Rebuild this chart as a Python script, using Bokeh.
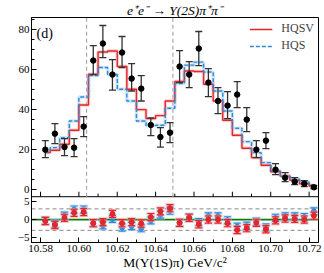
import math
from bokeh.plotting import figure
from bokeh.models import Range1d, FixedTicker, Label, Legend, LegendItem, PrintfTickFormatter
from bokeh.embed import file_html
from bokeh.resources import INLINE

# ---------------- data ----------------
mass = [10.5825, 10.5875, 10.5925, 10.5975, 10.6025, 10.6075, 10.6125, 10.6175,
        10.6225, 10.6275, 10.6325, 10.6375, 10.6425, 10.6475, 10.6525, 10.6575,
        10.6625, 10.6675, 10.6725, 10.6775, 10.6825, 10.6875, 10.6925, 10.6975,
        10.7025, 10.7075, 10.7125, 10.7175, 10.7225]
events = [20, 28, 21.3, 21, 31.5, 64.5, 73, 57.5, 68.5, 55.5, 50.5, 32.3, 26.3, 28.5,
          61.5, 57.5, 70.5, 53.5, 44.3, 42, 47.5, 35, 20, 24.5, 10, 6, 4, 3, 1.2]
events_hi = [24.5, 33, 25.5, 25.5, 36.5, 72, 82, 65, 76.5, 63, 57, 35.8, 31, 33.5,
             69.5, 64, 79, 60.5, 51, 49, 54, 41, 24.5, 28.5, 13, 8.5, 6, 4.5, 2.2]
events_lo = [16, 23, 17, 16.5, 26.5, 57.5, 66, 49.7, 61, 49.3, 44.3, 27, 21.3, 23.5,
             53.5, 51, 62, 46.5, 38, 35.5, 41, 29, 16, 20.5, 7.5, 4, 2.5, 1.5, 0.5]
hqsv = [18.5, 19.7, 22.7, 29.7, 42.3, 57.7, 68.8, 69.3, 61.5, 50.2, 40, 35.5, 37, 44.3,
        54, 59.3, 59, 52.7, 44.3, 34.7, 27.2, 20.7, 16, 12.2, 9, 6.8, 4.7, 3, 1.8]
hqs = [18.8, 21, 26, 34.3, 46.3, 57, 61, 57.5, 50.2, 44.3, 34.3, 32, 32.2, 40.7,
       53, 62.2, 63.7, 58.8, 49.3, 39.3, 30.7, 24, 18.5, 13.5, 9.3, 6.8, 5.2, 3.8, 2.2]
res_hqsv = [-0.4, -1.5, 0.5, 1.9, 2.1, -1.0, -0.7, 1.6, -1.0, -0.7, -1.1, 0.7, 2.3, 3.2,
            -0.9, 0.5, -1.3, 0.0, 0.0, -1.0, -2.9, -2.4, -0.9, -2.7, -0.2, 0.3, 0.2, 0.0, 1.1]
res_hqs = [-0.3, -1.2, 1.1, 2.8, 2.8, -1.0, -1.6, 0.2, -2.2, -1.8, -2.4, -0.2, 1.4, 2.5,
           -0.9, 0.6, -0.7, 0.9, 0.9, -0.2, -2.0, -1.7, -0.6, -2.2, 0.5, 0.9, 0.9, 0.7, 2.3]
res_err = 1.0
thresholds = [10.604, 10.649]
x_ticks = [10.58, 10.60, 10.62, 10.64, 10.66, 10.68, 10.70, 10.72]
x_minor = [10.59, 10.61, 10.63, 10.65, 10.67, 10.69, 10.71]
y_ticks = [0, 20, 40, 60, 80]
y_minor = [5, 10, 15, 25, 30, 35, 45, 50, 55, 65, 70, 75, 85]
res_ticks = [-5, 0, 5]
res_lines = [-3, 3]

# ---------------- geometry ----------------
W, H = 323, 272
BL, BR, BT, BB = 31, 5, 16, 30
FW = W - BL - BR
FH = H - BT - BB
RES_PX = 46
MAIN_PX = FH - RES_PX
XLO, XHI = 10.5753, 10.7249
MAIN_LO, MAIN_HI = -3.5, 86.0
RES_LO, RES_HI = -6.4, 6.4
ppu_main = MAIN_PX / (MAIN_HI - MAIN_LO)
ppu_res = RES_PX / (RES_HI - RES_LO)
ppx = FW / (XHI - XLO)
y_start = MAIN_LO - RES_PX / ppu_main
res_end = RES_HI + MAIN_PX / ppu_res

def res_to_main(r):
    return round(y_start + (r - RES_LO) * ppu_res / ppu_main, 6)

SERIF = "Liberation Serif"
RED = "#e3262b"
BLUE = "#2f88d8"
RED_L = "#f4a3a3"
BLUE_L = "#a3cdf0"

p = figure(width=W, height=H, output_backend="svg", toolbar_location=None,
           x_range=Range1d(XLO, XHI), y_range=Range1d(y_start, MAIN_HI),
           min_border_left=BL, min_border_right=BR, min_border_top=BT,
           min_border_bottom=BB)
p.extra_y_ranges = {"res": Range1d(RES_LO, res_end)}
p.grid.visible = False
p.outline_line_color = "black"
p.outline_line_width = 1
p.background_fill_color = "white"
p.border_fill_color = "white"

# title
p.title.text = "e\u207ae\u207b \u2192 \u03a5(2S)\u03c0\u207a\u03c0\u207b"
p.title.align = "center"
p.title.text_font = SERIF
p.title.text_font_style = "italic"
p.title.text_font_size = "13.5px"
p.title.text_color = "black"
p.title.standoff = 0

# axes
res_pos = [res_to_main(r) for r in res_ticks]
p.yaxis.ticker = FixedTicker(ticks=y_ticks + res_pos, minor_ticks=y_minor)
p.yaxis.major_label_overrides = {res_pos[0]: "\u22125", res_pos[1]: "0", res_pos[2]: "5"}
p.xaxis.ticker = FixedTicker(ticks=x_ticks, minor_ticks=x_minor)
p.xaxis.formatter = PrintfTickFormatter(format="%.2f")
p.xaxis.axis_label = "M(\u03a5(1S)\u03c0) GeV/c\u00b2"
for ax in (p.xaxis, p.yaxis):
    ax.major_tick_in = 5
    ax.major_tick_out = 0
    ax.minor_tick_in = 3
    ax.minor_tick_out = 0
    ax.major_label_text_font = SERIF
    ax.major_label_text_font_size = "11px"
    ax.major_label_text_color = "black"
    ax.axis_line_color = "black"
    ax.major_tick_line_color = "black"
    ax.minor_tick_line_color = "black"
    ax.major_label_standoff = 2
    ax.axis_label_standoff = 0
    ax.axis_label_text_font = SERIF
    ax.axis_label_text_font_style = "normal"
    ax.axis_label_text_font_size = "13.5px"
    ax.axis_label_text_color = "black"

# divider between panels
p.segment(x0=[XLO], x1=[XHI], y0=[MAIN_LO], y1=[MAIN_LO], line_color="black", line_width=1)
p.segment(x0=x_ticks, x1=x_ticks, y0=[MAIN_LO] * len(x_ticks),
          y1=[MAIN_LO + 5 / ppu_main] * len(x_ticks), line_color="black", line_width=1)
p.segment(x0=x_minor, x1=x_minor, y0=[MAIN_LO] * len(x_minor),
          y1=[MAIN_LO + 3 / ppu_main] * len(x_minor), line_color="black", line_width=1)

# threshold lines (main panel only)
p.segment(x0=thresholds, x1=thresholds, y0=[MAIN_LO] * 2, y1=[MAIN_HI] * 2,
          line_color="#a8a8a8", line_width=1.2, line_dash="4 3")

# model curves
p.step(mass, hqs, mode="center", line_color=BLUE_L, line_width=3.5, line_alpha=0.5)
p.step(mass, hqsv, mode="center", line_color=RED_L, line_width=3.5, line_alpha=0.5)
r_hqsv = p.step(mass, hqsv, mode="center", line_color=RED, line_width=1.4)
r_hqs = p.step(mass, hqs, mode="center", line_color=BLUE, line_width=1.4, line_dash="4 2")

# data
p.segment(x0=mass, x1=mass, y0=events_lo, y1=events_hi, line_color="#333333", line_width=1.3)
p.scatter(mass, events_hi, marker="dash", size=7, line_color="#333333", line_width=1.3)
p.scatter(mass, events_lo, marker="dash", size=7, line_color="#333333", line_width=1.3)
p.scatter(mass, events, marker="circle", size=5.5, fill_color="black", line_color="black")

# residual panel
p.segment(x0=[XLO], x1=[XHI], y0=[0], y1=[0], line_color="#0a7a0a", line_width=1.6,
          y_range_name="res")
p.segment(x0=[XLO, XLO], x1=[XHI, XHI], y0=res_lines, y1=res_lines, line_color="#888888",
          line_width=1, line_dash="4 3", y_range_name="res")

for vals, col, light in ((res_hqs, BLUE, BLUE_L), (res_hqsv, RED, RED_L)):
    lo = [v - res_err for v in vals]
    hi = [v + res_err for v in vals]
    p.segment(x0=mass, x1=mass, y0=lo, y1=hi, line_color=light, line_width=4,
              line_alpha=0.55, y_range_name="res")
    p.scatter(mass, hi, marker="dash", size=9, line_color=light, line_width=3,
              line_alpha=0.55, y_range_name="res")
    p.scatter(mass, lo, marker="dash", size=9, line_color=light, line_width=3,
              line_alpha=0.55, y_range_name="res")
    p.segment(x0=mass, x1=mass, y0=lo, y1=hi, line_color=col, line_width=1.2,
              y_range_name="res")
    p.scatter(mass, hi, marker="dash", size=7, line_color=col, line_width=1.2,
              y_range_name="res")
    p.scatter(mass, lo, marker="dash", size=7, line_color=col, line_width=1.2,
              y_range_name="res")
    p.scatter(mass, vals, marker="circle", size=5, fill_color=col, line_color=col,
              y_range_name="res")

# legend
legend = Legend(items=[LegendItem(label="HQSV", renderers=[r_hqsv]),
                       LegendItem(label="HQS", renderers=[r_hqs])],
                location="top_right", border_line_color=None, background_fill_alpha=0,
                label_text_font=SERIF, label_text_font_size="12px",
                glyph_width=23, glyph_height=12, label_standoff=9, spacing=2,
                padding=4, margin=4, label_height=12)
p.add_layout(legend)

# texts
p.add_layout(Label(x=XLO + 5 / ppx, y=MAIN_HI - 9 / ppu_main, text="(d)",
                   text_font=SERIF, text_font_size="14px", text_align="left",
                   text_baseline="top", text_color="black"))
p.add_layout(Label(x=XLO - 21 / ppx, y=(MAIN_LO + MAIN_HI) / 2 - 5 / ppu_main,
                   text="Events/0.005 GeV/c\u00b2", angle=math.pi / 2,
                   text_font=SERIF, text_font_size="13.5px", text_align="center",
                   text_baseline="middle", text_color="black"))
p.add_layout(Label(x=XLO - 21 / ppx, y=0, y_range_name="res",
                   text="(fit-data)/\u03c3", angle=math.pi / 2,
                   text_font=SERIF, text_font_size="12.5px", text_align="center",
                   text_baseline="middle", text_color="black"))

open("out.html", "w").write(file_html(p, INLINE))
